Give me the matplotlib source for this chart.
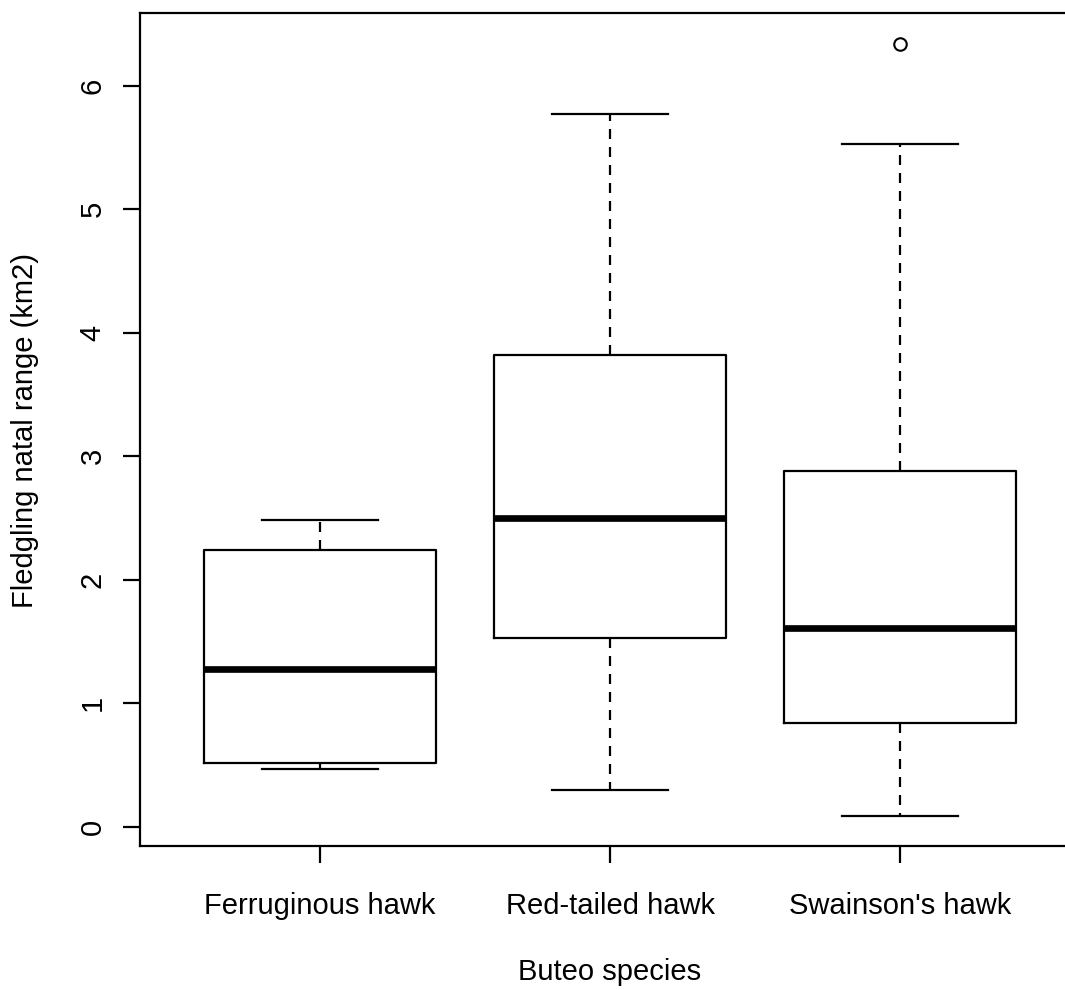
import matplotlib
matplotlib.use('Agg')
import matplotlib.pyplot as plt

plt.rcParams['font.family'] = ['Liberation Sans', 'DejaVu Sans']

# box summaries (km2)
SPECIES = ["Ferruginous hawk", "Red-tailed hawk", "Swainson's hawk"]
WHISK_LO = [0.47, 0.30, 0.09]
Q1 = [0.52, 1.53, 0.84]
MEDIAN = [1.28, 2.50, 1.61]
Q3 = [2.24, 3.82, 2.88]
WHISK_HI = [2.48, 5.77, 5.53]
OUTLIERS = [[], [], [6.34]]

YTICKS = [0, 1, 2, 3, 4, 5, 6]

W, H = 1065, 990
fig = plt.figure(figsize=(W / 100, H / 100), dpi=100)
ax = fig.add_axes([140 / W, 144 / H, 940 / W, 833 / H])

stats = []
for i, name in enumerate(SPECIES):
    stats.append(dict(label=name, whislo=WHISK_LO[i], q1=Q1[i], med=MEDIAN[i],
                      q3=Q3[i], whishi=WHISK_HI[i], fliers=OUTLIERS[i]))

lw = 1.6
ax.bxp(stats, positions=[1, 2, 3], widths=0.8, capwidths=0.4,
       boxprops=dict(color='black', linewidth=lw),
       whiskerprops=dict(color='black', linewidth=lw, dashes=(4.5, 3.6)),
       capprops=dict(color='black', linewidth=lw),
       medianprops=dict(color='black', linewidth=4.8, solid_capstyle='butt'),
       flierprops=dict(marker='o', markersize=9, markerfacecolor='none',
                       markeredgecolor='black', markeredgewidth=1.5))

ax.set_xlim(0.38, 3.62)
ax.set_ylim(-0.156, 6.589)
ax.set_yticks(YTICKS)
ax.set_yticklabels([str(t) for t in YTICKS])

for s in ['left', 'top', 'bottom', 'right']:
    ax.spines[s].set_linewidth(lw)

ax.tick_params(axis='both', direction='out', length=12.2, width=lw,
               labelsize=21, colors='black')
ax.tick_params(axis='x', pad=21)
ax.tick_params(axis='y', pad=12, labelrotation=90)
for lbl in ax.get_yticklabels():
    lbl.set_va('center')

fig.text(610 / W, 1 - 972 / H, 'Buteo species', ha='center', va='center', fontsize=21)
fig.text(25 / W, 1 - 430 / H, 'Fledgling natal range (km2)', ha='center', va='center',
         rotation=90, fontsize=21)

fig.savefig('out.png', dpi=100)
